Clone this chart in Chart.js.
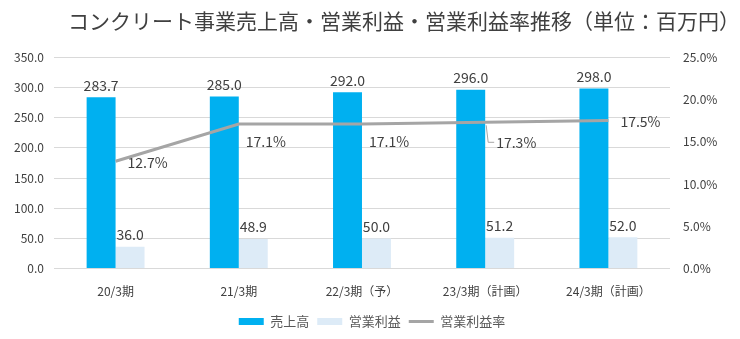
<!DOCTYPE html>
<html>
<head>
<meta charset="utf-8">
<script src="https://cdn.jsdelivr.net/npm/chart.js@4.4.1/dist/chart.umd.min.js"></script>
<style>
  html, body { margin: 0; padding: 0; background: #fff; }
  #wrap { width: 740px; height: 339px; }
</style>
</head>
<body>
<div id="wrap"><canvas id="chart" width="740" height="339"></canvas></div>
<script>
const categories = ["20/3期", "21/3期", "22/3期（予）", "23/3期（計画）", "24/3期（計画）"];
const sales = [283.7, 285.0, 292.0, 296.0, 298.0];
const profit = [36.0, 48.9, 50.0, 51.2, 52.0];
const margin = [12.7, 17.1, 17.1, 17.3, 17.5];
const leftTicks = [0, 50, 100, 150, 200, 250, 300, 350];
const rightTicks = [0, 5, 10, 15, 20, 25];

// where each margin label sits relative to its point
const marginLabelPos = ["right", "below", "below", "leader", "right"];

const FONT = "'Noto Sans CJK JP', 'Noto Sans', sans-serif";

const valueLabels = {
  id: "valueLabels",
  afterDatasetsDraw(chart) {
    const ctx = chart.ctx;
    ctx.save();
    ctx.font = "14px " + FONT;
    ctx.fillStyle = "#404040";
    [0, 1].forEach((di) => {
      const meta = chart.getDatasetMeta(di);
      const data = chart.data.datasets[di].data;
      meta.data.forEach((el, i) => {
        ctx.textAlign = "center";
        ctx.textBaseline = "bottom";
        ctx.fillText(data[i].toFixed(1), el.x, el.y - 5);
      });
    });
    const lineMeta = chart.getDatasetMeta(2);
    lineMeta.data.forEach((pt, i) => {
      const txt = margin[i].toFixed(1) + "%";
      ctx.textAlign = "left";
      ctx.textBaseline = "middle";
      const pos = marginLabelPos[i];
      if (pos === "right") {
        ctx.fillText(txt, pt.x + 12, pt.y + 1);
      } else if (pos === "below") {
        ctx.fillText(txt, pt.x + 7, pt.y + 18);
      } else {
        ctx.strokeStyle = "#A5A5A5";
        ctx.lineWidth = 1;
        ctx.beginPath();
        ctx.moveTo(pt.x + 1, pt.y + 3);
        ctx.lineTo(pt.x + 3, pt.y + 20);
        ctx.lineTo(pt.x + 9, pt.y + 20);
        ctx.stroke();
        ctx.fillText(txt, pt.x + 11, pt.y + 20);
      }
    });
    ctx.restore();
  }
};

new Chart(document.getElementById("chart"), {
  data: {
    labels: categories,
    datasets: [
      {
        type: "bar",
        label: "売上高",
        data: sales,
        backgroundColor: "#00B0F0",
        borderWidth: 0,
        pointStyle: "rect",
        yAxisID: "y",
        order: 2,
        categoryPercentage: 0.47,
        barPercentage: 1.0,
      },
      {
        type: "bar",
        label: "営業利益",
        data: profit,
        backgroundColor: "#DDEBF7",
        borderWidth: 0,
        pointStyle: "rect",
        yAxisID: "y",
        order: 2,
        categoryPercentage: 0.47,
        barPercentage: 1.0,
      },
      {
        type: "line",
        label: "営業利益率",
        data: margin,
        borderColor: "#A5A5A5",
        backgroundColor: "#A5A5A5",
        borderWidth: 3,
        pointRadius: 0,
        pointStyle: "line",
        tension: 0,
        yAxisID: "y1",
        order: 1,
      },
    ],
  },
  options: {
    responsive: false,
    animation: false,
    layout: { padding: { left: 4, right: 0, top: 4, bottom: 1 } },
    plugins: {
      title: {
        display: true,
        text: "コンクリート事業売上高・営業利益・営業利益率推移（単位：百万円）",
        color: "#404040",
        font: { family: FONT, size: 21, weight: "normal" },
        align: "end",
        padding: { top: 4, bottom: 24 },
      },
      legend: {
        position: "bottom",
        labels: {
          usePointStyle: true,
          pointStyleWidth: 25,
          boxHeight: 7,
          color: "#595959",
          font: { family: FONT, size: 13 },
          padding: 8,
          sort: (a, b) => a.datasetIndex - b.datasetIndex,
        },
      },
      tooltip: { enabled: false },
    },
    scales: {
      x: {
        grid: { display: false },
        border: { display: false },
        ticks: {
          color: "#404040",
          font: { family: FONT, size: 12 },
          padding: 8,
          maxRotation: 0,
        },
      },
      y: {
        position: "left",
        min: 0,
        max: 350,
        afterBuildTicks: (axis) => { axis.ticks = leftTicks.map((v) => ({ value: v })); },
        grid: { color: "#D9D9D9", drawTicks: false },
        border: { display: false },
        ticks: {
          color: "#404040",
          font: { family: FONT, size: 12 },
          padding: 10,
          callback: (v) => Number(v).toFixed(1),
        },
      },
      y1: {
        position: "right",
        min: 0,
        max: 25,
        afterBuildTicks: (axis) => { axis.ticks = rightTicks.map((v) => ({ value: v })); },
        grid: { display: false, drawTicks: false },
        border: { display: false },
        ticks: {
          color: "#404040",
          font: { family: FONT, size: 12 },
          padding: 13,
          callback: (v) => Number(v).toFixed(1) + "%",
        },
        afterFit: (axis) => { axis.width = 70; },
      },
    },
  },
  plugins: [valueLabels],
});
</script>
</body>
</html>
